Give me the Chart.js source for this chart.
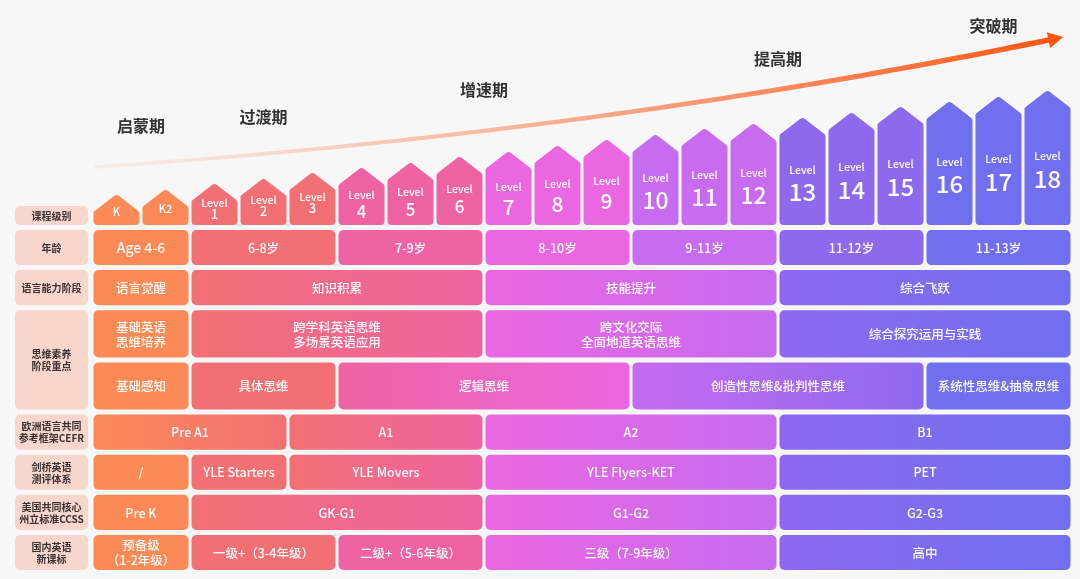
<!DOCTYPE html>
<html><head><meta charset="utf-8">
<script src="https://cdn.jsdelivr.net/npm/chart.js@4/dist/chart.umd.min.js"></script>
<style>html,body{margin:0;padding:0;background:#F7F7F7;}#wrap{width:1080px;height:579px;position:relative;}</style>
</head><body><div id="wrap"><canvas id="c" width="1080" height="579"></canvas></div>
<script>
// ---------------- DATA ----------------
const levelNames = ['K','K2','1','2','3','4','5','6','7','8','9','10','11','12','13','14','15','16','17','18'];
const levelHeights = [31,36,42,47,53,58,63,69,74,80,86,91,97,102,108,113,119,124,129,135];
const rowLabels = ['课程级别','年龄','语言能力阶段','思维素养\n阶段重点','欧洲语言共同\n参考框架CEFR','剑桥英语\n测评体系','美国共同核心\n州立标准CCSS','国内英语\n新课标'];
const ageTexts = ['Age 4-6','6-8岁','7-9岁','8-10岁','9-11岁','11-12岁','11-13岁'];
const ageSpans = [2,3,3,3,3,3,3];
const stageTexts = ['语言觉醒','知识积累','技能提升','综合飞跃'];
const stageSpans = [2,6,6,6];
const goalTexts = ['基础英语\n思维培养','跨学科英语思维\n多场景英语应用','跨文化交际\n全面地道英语思维','综合探究运用与实践'];
const goalSpans = [2,6,6,6];
const modeTexts = ['基础感知','具体思维','逻辑思维','创造性思维&批判性思维','系统性思维&抽象思维'];
const modeSpans = [2,3,6,6,3];
const cefrTexts = ['Pre A1','A1','A2','B1'];
const cefrSpans = [4,4,6,6];
const cambridgeTexts = ['/','YLE Starters','YLE Movers','YLE Flyers-KET','PET'];
const cambridgeSpans = [2,2,4,6,6];
const ccssTexts = ['Pre K','GK-G1','G1-G2','G2-G3'];
const ccssSpans = [2,6,6,6];
const cnTexts = ['预备级\n（1-2年级）','一级+（3-4年级）','二级+（5-6年级）','三级（7-9年级）','高中'];
const cnSpans = [2,3,3,6,6];
const phaseNames = ['启蒙期','过渡期','增速期','提高期','突破期'];

// ---------------- LAYOUT / STYLE ----------------
const W = 1080, H = 579;
const PX = 49, X0 = 92;              // px per column, pixel of column 0
const BASE = 225;                    // house base pixel
const RU = 40.12, R0 = 227.5;        // table row unit px, origin px
const layout = {
  phaseAt: [[1,99],[3.5,108],[8,135],[14,166],[18.4,199]],
  arrow: [[0.06,58],[10.37,92],[19.82,188]],
  labelCol: [-1.571,-0.082],
  headerBand: [-0.6,0],
  bands: [[0,1],[1,2],[2,3.3],[3.3,4.6],[4.6,5.6],[5.6,6.6],[6.6,7.6],[7.6,8.6]],
  labelBands: [[-0.6,0],[0,1],[1,2],[2,4.6],[4.6,5.6],[5.6,6.6],[6.6,7.6],[7.6,8.6]]
};
const FONT = "'Noto Sans CJK SC','Noto Sans',sans-serif";
const groupColors = ['#FB8A56','#F27074','#F063A2','#EB67E1','#C76BF0','#8D69EE','#6F6FEF'];
const digitSize = [11,13,17,21,23,24,24];
const digitGap  = [0,11,17,20,22,22,22];
const groupOf = i => i < 2 ? 0 : 1 + Math.floor((i-2)/3);
const colColor = i => groupColors[groupOf(i)];

const tableRows = [
  {texts: ageTexts, spans: ageSpans, band: 0},
  {texts: stageTexts, spans: stageSpans, band: 1},
  {texts: goalTexts, spans: goalSpans, band: 2},
  {texts: modeTexts, spans: modeSpans, band: 3},
  {texts: cefrTexts, spans: cefrSpans, band: 4},
  {texts: cambridgeTexts, spans: cambridgeSpans, band: 5},
  {texts: ccssTexts, spans: ccssSpans, band: 6},
  {texts: cnTexts, spans: cnSpans, band: 7}
];

function rr(ctx, x0, y0, x1, y1, r) {
  ctx.beginPath();
  ctx.moveTo(x0 + r, y0);
  ctx.arcTo(x1, y0, x1, y1, r);
  ctx.arcTo(x1, y1, x0, y1, r);
  ctx.arcTo(x0, y1, x0, y0, r);
  ctx.arcTo(x0, y0, x1, y0, r);
  ctx.closePath();
}
function multiText(ctx, text, cx, cy, lh) {
  const lines = text.split('\n');
  const start = cy - (lines.length - 1) * lh / 2;
  lines.forEach((l, k) => ctx.fillText(l, cx, start + k * lh));
}

const infoPlugin = {
  id: 'info',
  beforeDatasetsDraw(chart) {
    const ctx = chart.ctx, sx = chart.scales.x, sH = chart.scales.yH, sT = chart.scales.yT;
    ctx.save();
    // arrow
    const P = layout.arrow.map(p => [sx.getPixelForValue(p[0]), sH.getPixelForValue(p[1])]);
    const bez = t => [
      (1-t)*(1-t)*P[0][0] + 2*t*(1-t)*P[1][0] + t*t*P[2][0],
      (1-t)*(1-t)*P[0][1] + 2*t*(1-t)*P[1][1] + t*t*P[2][1]];
    const dx = P[2][0]-P[1][0], dy = P[2][1]-P[1][1], dl = Math.hypot(dx,dy);
    const ux = dx/dl, uy = dy/dl;
    const headLen = 15, headHalf = 8;
    const endX = P[2][0] - ux*headLen*0.8, endY = P[2][1] - uy*headLen*0.8;
    const g = ctx.createLinearGradient(P[0][0], 0, P[2][0], 0);
    g.addColorStop(0, 'rgba(248,226,216,0.55)');
    g.addColorStop(0.3, 'rgba(246,200,182,1)');
    g.addColorStop(0.65, '#F9956C');
    g.addColorStop(1, '#FF5511');
    const N = 80, top = [], bot = [];
    for (let k = 0; k <= N; k++) {
      const t = k / N * 0.985;
      const p = bez(t);
      const d = [2*(1-t)*(P[1][0]-P[0][0]) + 2*t*(P[2][0]-P[1][0]), 2*(1-t)*(P[1][1]-P[0][1]) + 2*t*(P[2][1]-P[1][1])];
      const l = Math.hypot(d[0], d[1]);
      const nx = -d[1]/l, ny = d[0]/l;
      const w = (3.4 + 2.2*t) / 2;
      top.push([p[0]+nx*w, p[1]+ny*w]); bot.push([p[0]-nx*w, p[1]-ny*w]);
    }
    ctx.beginPath();
    top.forEach((p,k) => k ? ctx.lineTo(p[0],p[1]) : ctx.moveTo(p[0],p[1]));
    for (let k = bot.length-1; k >= 0; k--) ctx.lineTo(bot[k][0], bot[k][1]);
    ctx.closePath();
    ctx.fillStyle = g; ctx.fill();
    // head
    const bx = P[2][0] - ux*headLen, by = P[2][1] - uy*headLen;
    ctx.beginPath();
    ctx.moveTo(P[2][0], P[2][1]);
    ctx.lineTo(bx - uy*headHalf, by + ux*headHalf);
    ctx.lineTo(bx + uy*headHalf*0.25, by - ux*headHalf*0.25);
    ctx.lineTo(bx + uy*headHalf, by - ux*headHalf);
    ctx.closePath();
    ctx.fillStyle = '#FF5511'; ctx.fill();

    // phase labels
    ctx.fillStyle = '#333333';
    ctx.font = 'bold 16px ' + FONT;
    ctx.textAlign = 'center'; ctx.textBaseline = 'middle';
    phaseNames.forEach((n, i) => ctx.fillText(n, sx.getPixelForValue(layout.phaseAt[i][0]), sH.getPixelForValue(layout.phaseAt[i][1])));

    // row labels
    const lx0 = sx.getPixelForValue(layout.labelCol[0]), lx1 = sx.getPixelForValue(layout.labelCol[1]);
    rowLabels.forEach((lab, i) => {
      const b = layout.labelBands[i];
      const y0 = sT.getPixelForValue(b[0]) + 2.5, y1 = sT.getPixelForValue(b[1]) - 2.5;
      rr(ctx, lx0, y0, lx1, y1, 5);
      ctx.fillStyle = '#F9D6CB'; ctx.fill();
      ctx.fillStyle = '#3A3333';
      ctx.font = 'bold 10px ' + FONT;
      multiText(ctx, lab, (lx0+lx1)/2, (y0+y1)/2 + 0.5, 12);
    });

    // table cells
    tableRows.forEach(row => {
      const b = layout.bands[row.band];
      const y0 = sT.getPixelForValue(b[0]) + 2.5, y1 = sT.getPixelForValue(b[1]) - 2.5;
      let c = 0;
      row.texts.forEach((txt, j) => {
        const s = c, e = c + row.spans[j]; c = e;
        const x0 = sx.getPixelForValue(s) + 1.5, x1 = sx.getPixelForValue(e) - 1.5;
        const gr = ctx.createLinearGradient(x0, 0, x1, 0);
        gr.addColorStop(0, colColor(s));
        gr.addColorStop(1, colColor(e-1));
        rr(ctx, x0, y0, x1, y1, 5);
        ctx.fillStyle = gr; ctx.fill();
        ctx.fillStyle = 'rgba(255,255,255,0.96)';
        const big = txt === 'Age 4-6';
        ctx.font = (big ? '500 14px ' : '500 12.5px ') + FONT;
        multiText(ctx, txt, (x0+x1)/2, (y0+y1)/2 + 0.5, 15);
      });
    });
    ctx.restore();
  },
  afterDatasetsDraw(chart) {
    const ctx = chart.ctx;
    const meta = chart.getDatasetMeta(0);
    ctx.save();
    ctx.textAlign = 'center'; ctx.textBaseline = 'middle';
    meta.data.forEach((el, i) => {
      const p = el.getProps(['x','y','base','width'], true);
      const l = p.x - p.width/2, r = p.x + p.width/2, peak = p.y, base = p.base;
      const sh = peak + 18;
      ctx.beginPath();
      ctx.moveTo(p.x, base);
      ctx.arcTo(l, base, l, sh, 4);
      ctx.arcTo(l, sh, p.x, peak, 3);
      ctx.arcTo(p.x, peak, r, sh, 4);
      ctx.arcTo(r, sh, r, base, 3);
      ctx.arcTo(r, base, p.x, base, 4);
      ctx.closePath();
      const gi = groupOf(i);
      ctx.fillStyle = groupColors[gi]; ctx.fill();
      const mid = (peak + base) / 2;
      ctx.fillStyle = 'rgba(255,255,255,0.97)';
      if (i < 2) {
        ctx.font = '500 11px ' + FONT;
        ctx.fillText(levelNames[i], p.x, mid + 2);
      } else {
        ctx.font = '500 10.5px ' + FONT;
        ctx.fillText('Level', p.x, mid - 1);
        ctx.font = '500 ' + digitSize[gi] + 'px ' + FONT;
        ctx.fillText(levelNames[i], p.x, mid - 1 + digitGap[gi]);
      }
    });
    ctx.restore();
  }
};

new Chart(document.getElementById('c'), {
  type: 'bar',
  data: {
    datasets: [{
      label: '课程级别',
      data: levelHeights.map((h, i) => ({x: i + 0.5, y: h})),
      xAxisID: 'x', yAxisID: 'yH',
      backgroundColor: 'rgba(0,0,0,0)', borderWidth: 0,
      categoryPercentage: 1, barPercentage: 46/49
    }]
  },
  options: {
    responsive: false, animation: false, events: [],
    layout: {padding: 0},
    plugins: {legend: {display: false}, tooltip: {enabled: false}, title: {display: false}},
    scales: {
      x: {type: 'linear', display: false, offset: false, min: -X0/PX, max: (W - X0)/PX},
      yH: {type: 'linear', display: false, min: -(H - BASE), max: BASE},
      yT: {type: 'linear', display: false, reverse: true, min: -R0/RU, max: (H - R0)/RU}
    }
  },
  plugins: [infoPlugin]
});
</script></body></html>
